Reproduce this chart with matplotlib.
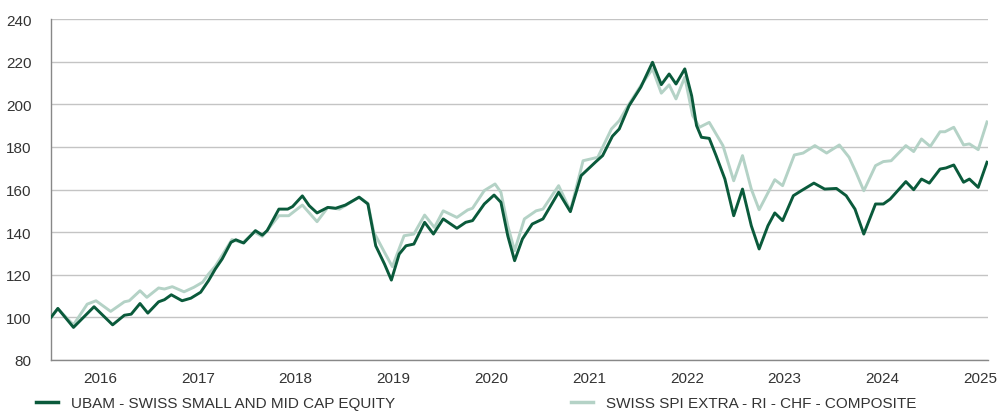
import matplotlib.pyplot as plt
from matplotlib.lines import Line2D

# UBAM - Swiss Small and Mid Cap Equity (fecha en años decimales, valor base 100)
t_ubam = [2015.50, 2015.57, 2015.73, 2015.94, 2016.13, 2016.25, 2016.32, 2016.41, 2016.49,
          2016.60, 2016.66, 2016.73, 2016.84, 2016.93, 2017.03, 2017.11, 2017.18, 2017.25,
          2017.34, 2017.39, 2017.47, 2017.59, 2017.66, 2017.71, 2017.83, 2017.92, 2017.97,
          2018.07, 2018.14, 2018.22, 2018.33, 2018.41, 2018.51, 2018.65, 2018.74, 2018.82,
          2018.91, 2018.98, 2019.06, 2019.13, 2019.21, 2019.32, 2019.41, 2019.51, 2019.65,
          2019.74, 2019.81, 2019.93, 2020.03, 2020.10, 2020.17, 2020.24, 2020.32, 2020.42,
          2020.53, 2020.69, 2020.81, 2020.92, 2021.07, 2021.14, 2021.24, 2021.31, 2021.41,
          2021.53, 2021.65, 2021.74, 2021.82, 2021.89, 2021.98, 2022.05, 2022.10, 2022.15,
          2022.23, 2022.30, 2022.39, 2022.48, 2022.57, 2022.66, 2022.74, 2022.83, 2022.90,
          2022.98, 2023.09, 2023.17, 2023.30, 2023.41, 2023.53, 2023.63, 2023.72, 2023.81,
          2023.93, 2024.01, 2024.08, 2024.24, 2024.32, 2024.40, 2024.48, 2024.59, 2024.65,
          2024.73, 2024.83, 2024.89, 2024.98, 2025.07]
v_ubam = [100.0, 104.2, 95.3, 105.0, 96.5, 101.0, 101.5, 106.5, 102.0,
          107.3, 108.3, 110.6, 107.8, 109.0, 111.8, 117.2, 122.7, 127.4,
          135.2, 136.4, 134.9, 140.7, 138.6, 140.7, 150.8, 150.8, 152.0,
          157.0, 152.4, 149.0, 151.6, 151.2, 152.7, 156.4, 153.2, 133.6,
          125.0, 117.5, 129.7, 133.6, 134.4, 144.6, 139.1, 146.2, 141.8,
          144.6, 145.4, 153.2, 157.4, 154.0, 138.3, 126.6, 136.8, 143.8,
          146.2, 158.7, 149.6, 166.5, 173.0, 175.9, 185.0, 188.4, 199.3,
          208.0, 219.7, 209.2, 214.2, 209.5, 216.6, 204.0, 190.0, 184.5,
          184.0, 175.9, 164.9, 147.7, 160.2, 143.0, 132.1, 143.0, 149.0,
          145.4, 157.1, 159.4, 163.0, 160.2, 160.5, 157.1, 150.8, 139.1,
          153.2, 153.2, 155.5, 163.7, 159.9, 164.9, 163.0, 169.6, 170.1,
          171.5, 163.4, 164.9, 161.0, 172.8]

# Swiss SPI Extra - RI - CHF - Composite
t_spi = [2015.50, 2015.57, 2015.73, 2015.87, 2015.96, 2016.11, 2016.25, 2016.30, 2016.41,
         2016.48, 2016.60, 2016.66, 2016.74, 2016.86, 2016.96, 2017.05, 2017.11, 2017.18,
         2017.35, 2017.46, 2017.58, 2017.66, 2017.83, 2017.93, 2018.07, 2018.22, 2018.33,
         2018.45, 2018.65, 2018.74, 2018.80, 2018.91, 2018.99, 2019.11, 2019.21, 2019.32,
         2019.42, 2019.51, 2019.65, 2019.76, 2019.81, 2019.93, 2020.04, 2020.10, 2020.17,
         2020.24, 2020.34, 2020.46, 2020.53, 2020.69, 2020.81, 2020.94, 2021.09, 2021.23,
         2021.31, 2021.41, 2021.53, 2021.65, 2021.74, 2021.82, 2021.89, 2021.98, 2022.06,
         2022.13, 2022.23, 2022.37, 2022.48, 2022.57, 2022.66, 2022.74, 2022.90, 2022.98,
         2023.10, 2023.19, 2023.31, 2023.43, 2023.56, 2023.66, 2023.73, 2023.81, 2023.93,
         2024.01, 2024.09, 2024.24, 2024.32, 2024.40, 2024.49, 2024.59, 2024.64, 2024.73,
         2024.83, 2024.89, 2024.98, 2025.07]
v_spi = [100.0, 104.0, 96.5, 106.2, 107.8, 102.8, 107.3, 107.8, 112.5,
         109.4, 113.8, 113.3, 114.4, 112.0, 114.1, 116.5, 120.3, 124.0,
         136.5, 135.0, 140.0, 138.0, 147.7, 147.7, 152.7, 144.9, 151.6,
         150.8, 156.4, 153.5, 140.0, 130.5, 123.8, 138.3, 139.1, 148.0,
         142.2, 150.0, 146.9, 150.4, 151.2, 159.5, 162.6, 158.7, 143.0,
         131.3, 146.2, 150.0, 150.8, 161.8, 150.0, 173.5, 175.1, 188.4,
         192.3, 200.1, 208.7, 216.6, 205.2, 209.1, 202.5, 212.7, 194.7,
         189.2, 191.5, 180.6, 164.1, 175.9, 160.2, 150.5, 164.6, 161.8,
         176.2, 177.1, 180.6, 177.1, 180.9, 175.1, 168.1, 159.4, 171.2,
         173.1, 173.5, 180.6, 177.8, 183.7, 180.2, 187.1, 187.1, 189.2,
         180.9, 181.4, 178.7, 191.7]

years = [2016, 2017, 2018, 2019, 2020, 2021, 2022, 2023, 2024, 2025]
yticks = [80, 100, 120, 140, 160, 180, 200, 220, 240]

label_ubam = "UBAM - SWISS SMALL AND MID CAP EQUITY"
label_spi = "SWISS SPI EXTRA - RI - CHF - COMPOSITE"

plt.rcParams['font.family'] = ['Liberation Sans', 'DejaVu Sans']

verde = "#0a5a3b"
verde_claro = "#b4d2c6"
texto = "#333333"

fig = plt.figure(figsize=(10.08, 4.14), dpi=100)
ax = fig.add_axes([51 / 1008, 1 - 361 / 414, 937 / 1008, 341 / 414])

ax.plot(t_spi, v_spi, color=verde_claro, lw=2.1, solid_joinstyle="round", zorder=3)
ax.plot(t_ubam, v_ubam, color=verde, lw=2.1, solid_joinstyle="round", zorder=4)

ax.set_xlim(2015.50, 2025.08)
ax.set_ylim(80, 240)
ax.set_xticks(years)
ax.set_xticklabels([str(a) for a in years])
ax.set_yticks(yticks)
ax.tick_params(length=0, labelsize=11, labelcolor=texto)
ax.tick_params(axis="y", pad=14)
ax.tick_params(axis="x", pad=8)

ax.grid(axis="y", color="#c4c4c4", lw=1.0)
ax.set_axisbelow(True)
for s in ["top", "right"]:
    ax.spines[s].set_visible(False)
ax.spines["left"].set_color("#888888")
ax.spines["bottom"].set_color("#888888")
ax.spines["left"].set_linewidth(1.0)
ax.spines["bottom"].set_linewidth(1.0)

# leyenda inferior
handles = [Line2D([], [], color=verde, lw=2.5), Line2D([], [], color=verde_claro, lw=2.5)]
fig.legend(handles, [label_ubam, label_spi], loc="center left",
           bbox_to_anchor=(30 / 1008, 1 - 404 / 414), ncol=2, frameon=False,
           fontsize=11, labelcolor=texto, handlelength=1.45, handletextpad=0.85,
           columnspacing=11.5, borderaxespad=0)

fig.savefig("out.png", dpi=100)
